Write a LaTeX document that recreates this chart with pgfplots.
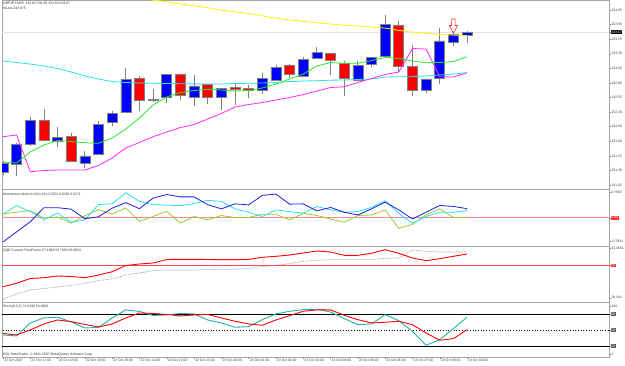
\documentclass[border=0pt]{standalone}
\usepackage{fontspec}
\setmainfont{Liberation Sans}
\usepackage{pgfplots}
\usepackage{pgfplotstable}
\pgfplotsset{compat=1.18}

\definecolor{cblue}{RGB}{0,0,255}
\definecolor{cred}{RGB}{255,0,0}
\definecolor{mgreen}{RGB}{40,235,40}
\definecolor{mcyan}{RGB}{40,225,235}
\definecolor{mmag}{RGB}{255,40,255}
\definecolor{myel}{RGB}{250,250,0}
\definecolor{momblue}{RGB}{30,30,225}
\definecolor{momcyan}{RGB}{40,225,235}
\definecolor{momolive}{RGB}{154,205,50}
\definecolor{stcyan}{RGB}{32,178,170}
\definecolor{wickgray}{RGB}{128,128,128}
\definecolor{framegray}{RGB}{165,165,165}

\newcommand{\tf}{\fontsize{3.4}{4}\selectfont}

\pgfdeclareplotmark{dnarrow}{%
  \pgfpathmoveto{\pgfqpoint{-1.8pt}{7pt}}%
  \pgfpathlineto{\pgfqpoint{1.8pt}{7pt}}%
  \pgfpathlineto{\pgfqpoint{1.8pt}{0.5pt}}%
  \pgfpathlineto{\pgfqpoint{4.2pt}{0.5pt}}%
  \pgfpathlineto{\pgfqpoint{0pt}{-7pt}}%
  \pgfpathlineto{\pgfqpoint{-4.2pt}{0.5pt}}%
  \pgfpathlineto{\pgfqpoint{-1.8pt}{0.5pt}}%
  \pgfpathclose
  \pgfusepathqfillstroke}

\pgfplotsset{
  panel/.style={
    scale only axis, width=607pt, anchor=south west,
    xmin=-0.07, xmax=44.4,
    axis line style={framegray, line width=0.9pt},
    xtick=\empty,
    ytick pos=right,
    yticklabel pos=right,
    tick align=outside,
    major tick length=1.5pt,
    tick style={wickgray, line width=0.4pt},
    yticklabel style={font=\tf, text=black!75, inner sep=0.8pt},
    /pgf/number format/assume math mode=true,
  },
  over/.style={
    scale only axis, width=607pt, anchor=south west,
    xmin=-0.07, xmax=44.4, axis lines=none,
  },
}

\pgfplotstableread{
i o h l c
0 231.26 231.47 231.23 231.43
1 231.40 231.77 231.20 231.74
2 231.75 232.22 231.72 232.16
3 232.16 232.35 231.82 231.82
4 231.80 232.04 231.71 231.87
5 231.89 231.95 231.45 231.45
6 231.43 231.63 231.34 231.55
7 231.58 232.15 231.58 232.09
8 232.12 232.32 232.06 232.28
9 232.29 233.05 232.29 232.86
10 232.88 232.92 232.32 232.51
11 232.52 232.69 232.48 232.50
12 232.55 232.96 232.46 232.95
13 232.94 232.95 232.50 232.59
14 232.56 232.94 232.41 232.75
15 232.78 232.79 232.44 232.55
16 232.56 232.70 232.34 232.70
17 232.72 232.78 232.42 232.69
18 232.71 232.76 232.54 232.68
19 232.68 232.97 232.61 232.88
20 232.85 233.11 232.85 233.07
21 233.10 233.12 232.88 232.94
22 232.92 233.24 232.92 233.21
23 233.22 233.41 233.22 233.33
24 233.31 233.32 232.94 233.19
25 233.14 233.18 232.58 232.88
26 232.85 233.18 232.85 233.10
27 233.12 233.24 233.07 233.24
28 233.25 233.96 233.25 233.81
29 233.78 233.86 232.99 233.09
30 233.08 233.45 232.58 232.67
31 232.68 232.87 232.62 232.87
32 232.88 233.75 232.79 233.52
33 233.50 233.72 233.43 233.63
34 233.62 233.69 233.49 233.67
}\candles

\pgfplotstableread{
i cy gr mg
0 233.176 231.444 231.878
1 233.150 231.427 231.907
2 233.124 231.616 231.278
3 233.090 231.736 231.299
4 233.047 231.813 231.307
5 232.987 231.796 231.307
6 232.919 231.774 231.307
7 232.867 231.765 231.384
8 232.824 231.856 231.513
9 232.807 232.010 231.684
10 232.799 232.199 231.779
11 232.794 232.421 231.878
12 232.790 232.559 231.959
13 232.787 232.636 232.036
14 232.785 232.670 232.087
15 232.781 232.691 232.181
16 232.781 232.679 232.276
17 232.790 232.661 232.387
18 232.794 232.670 232.430
19 232.799 232.713 232.464
20 232.807 232.781 232.507
21 232.824 232.867 232.550
22 232.833 232.953 232.601
23 232.838 233.090 232.661
24 232.847 233.150 232.721
25 232.850 233.136 232.735
26 232.859 233.136 232.807
27 232.867 233.184 232.876
28 232.901 233.236 232.944
29 232.907 233.222 232.987
30 232.907 233.176 233.390
31 232.919 233.147 233.381
32 232.936 233.150 232.907
33 232.953 233.167 232.901
34 232.975 233.249 232.975
}\mas

\pgfplotstableread{
i mb mc mo qr qg sr sc
0 -0.680 0.105 0.105 37.38 29.94 43.5 40.7
1 -0.397 0.340 0.156 39.38 33.07 40.7 38.8
2 -0.113 0.178 0.198 42.21 35.43 50.1 63.2
3 0.283 -0.057 -0.008 42.69 36.31 61.3 72.6
4 0.283 0.133 0.020 43.69 37.20 68.8 73.9
5 0.241 -0.133 -0.150 43.40 38.08 65.6 65.1
6 -0.028 -0.057 0.057 42.69 39.38 60.4 53.8
7 0.028 0.368 0.227 44.28 41.03 55.7 54.8
8 0.269 0.397 0.105 46.23 41.92 61.3 72.6
9 0.425 0.700 0.275 49.89 44.28 72.6 87.6
10 0.255 0.462 -0.105 50.78 45.46 81.9 84.8
11 0.552 0.368 0.037 51.37 46.82 81.0 77.3
12 0.652 0.354 0.178 53.43 47.24 79.1 78.2
13 0.586 0.340 -0.150 53.55 47.24 76.3 81.0
14 0.586 0.397 0.037 53.55 47.24 78.2 80.1
15 0.368 0.490 -0.057 53.43 47.44 79.1 68.8
16 0.249 0.458 0.062 53.32 47.65 72.6 63.2
17 0.390 0.249 0.006 53.32 47.65 66.4 55.1
18 0.362 0.156 0.006 53.50 48.24 61.3 56.3
19 0.628 0.034 0.099 54.73 49.18 58.9 69.4
20 0.665 0.221 0.099 55.32 50.00 68.8 80.1
21 0.382 0.175 -0.062 56.09 50.96 76.9 85.1
22 0.390 0.127 0.127 57.27 52.37 85.1 88.1
23 0.192 0.317 0.062 58.45 52.96 87.6 88.9
24 0.289 0.221 -0.034 57.86 53.32 87.6 83.8
25 0.156 0.156 -0.127 55.91 53.32 77.6 71.3
26 0.079 0.175 0.062 55.91 53.32 69.4 60.0
27 0.249 0.289 0.079 57.10 53.32 63.2 61.3
28 0.439 0.475 0.221 59.22 54.14 64.5 78.8
29 0.221 0.127 -0.297 57.10 54.32 66.4 67.5
30 -0.034 -0.156 -0.184 54.32 59.04 60.0 47.6
31 0.156 0.034 0.079 52.73 58.28 44.4 21.4
32 0.345 0.156 0.249 53.91 57.86 30.8 31.9
33 0.317 0.156 0.006 55.32 57.86 33.8 52.5
34 0.2551 0.2035 0.0171 56.68 57.86 50.6 74.02
}\ind

\begin{document}
\begin{tikzpicture}
\useasboundingbox (0pt,0pt) rectangle (625pt,365pt);
\fill[white] (0pt,0pt) rectangle (625pt,365pt);

% ---------- main price panel: frame, wicks, price line
\begin{axis}[panel, at={(2pt,175.5pt)}, height=189pt,
  ymin=230.973, ymax=234.213,
  ytick={231.05,231.30,231.55,231.80,232.05,232.30,232.55,232.80,233.05,233.30,233.55,233.80,234.05},
  yticklabel style={/pgf/number format/fixed, /pgf/number format/fixed zerofill, /pgf/number format/precision=2},
  extra y ticks={233.67}, extra y tick labels={233.67},
  extra y tick style={yticklabel style={fill=black, text=white, inner sep=0.6pt}},
]
\addplot[gray!22, line width=1.2pt, forget plot] coordinates {(-1,233.67) (45,233.67)};
\addplot[only marks, mark=*, mark size=0pt, mark options={draw=none, fill=none}, forget plot,
  error bars/.cd, y dir=plus, y explicit, error mark=none,
  error bar style={draw=wickgray, line width=0.8pt}]
  table[x=i, y=l, y error plus expr={\thisrow{h}-\thisrow{l}}] {\candles};
\end{axis}

% ---------- candle bodies
\begin{axis}[over, at={(2pt,175.5pt)}, height=189pt,
  ymin=230.973, ymax=234.213, ybar stacked, bar width=10pt]
\addplot[draw=none, fill=none] table[x=i, y expr={min(\thisrow{o},\thisrow{c})}] {\candles};
\addplot[fill=cblue, draw=wickgray, line width=0.6pt] table[x=i, y expr={max(\thisrow{c}-\thisrow{o},0)}] {\candles};
\addplot[fill=cred, draw=wickgray, line width=0.6pt] table[x=i, y expr={max(\thisrow{o}-\thisrow{c},0)}] {\candles};
\end{axis}

% ---------- moving averages and signal arrow
\begin{axis}[over, at={(2pt,175.5pt)}, height=189pt,
  ymin=230.973, ymax=234.213, clip=true]
\addplot[myel, line width=0.8pt] coordinates {(10,234.25)(11,234.22)(12,234.19)(13,234.155)(14,234.12)(15,234.09)(16,234.05)(17,234.02)(18,233.99)(19,233.95)(20,233.91)(21,233.88)(22,233.855)(23,233.83)(24,233.81)(25,233.79)(26,233.775)(27,233.76)(28,233.74)(29,233.70)(30,233.67)(31,233.65)(32,233.63)(33,233.62)(34,233.61)};
\addplot[mcyan, line width=0.8pt] table[x=i, y=cy] {\mas};
\addplot[mmag, line width=0.8pt] table[x=i, y=mg] {\mas};
\addplot[mgreen, line width=0.8pt] table[x=i, y=gr] {\mas};
\addplot[only marks, mark=dnarrow, mark options={draw=red!85, fill=white, line width=0.6pt}] coordinates {(33,233.776)};
\end{axis}

% ---------- momentum panel
\begin{axis}[panel, at={(2pt,119pt)}, height=56.5pt,
  ymin=-0.7933, ymax=0.7933,
  ytick={-0.671,0.708}, yticklabels={-0.7933,0.7933},
  extra y ticks={0}, extra y tick labels={0.00},
  extra y tick style={yticklabel style={fill=red!80, text=white, inner sep=0.6pt}},
]
\addplot[red!45, line width=0.6pt] coordinates {(-1,0) (45,0)};
\addplot[momolive, line width=0.8pt] table[x=i, y=mo] {\ind};
\addplot[momcyan, line width=0.8pt] table[x=i, y=mc] {\ind};
\addplot[momblue, line width=0.8pt] table[x=i, y=mb] {\ind};
\end{axis}

% ---------- QQE panel
\begin{axis}[panel, at={(2pt,63pt)}, height=56pt,
  ymin=28.341, ymax=61.4051,
  ytick={30.88,59.93}, yticklabels={28.341,61.4051},
  extra y ticks={50}, extra y tick labels={50},
  extra y tick style={yticklabel style={fill=red!80, text=white, inner sep=0.6pt}},
]
\addplot[red!70, line width=0.6pt] coordinates {(-1,50) (45,50)};
\addplot[black!55, densely dotted, line width=0.6pt] table[x=i, y=qg] {\ind};
\addplot[red, line width=0.9pt] table[x=i, y=qr] {\ind};
\end{axis}

% ---------- Stochastic panel
\begin{axis}[panel, at={(2pt,8pt)}, height=55pt,
  ymin=-0.56, ymax=102.44,
  ytick={5,95}, yticklabels={0,100},
  extra y ticks={20,50,80}, extra y tick labels={20,50,80},
  extra y tick style={yticklabel style={fill=black!65, text=white, inner sep=0.6pt}},
  xtick={0,2,...,34},
  xticklabels={22 Oct 2007,22 Oct 17:00,22 Oct 18:00,22 Oct 19:00,22 Oct 20:00,22 Oct 21:00,22 Oct 22:00,22 Oct 23:00,23 Oct 00:00,23 Oct 01:00,23 Oct 02:00,23 Oct 03:00,23 Oct 04:00,23 Oct 05:00,23 Oct 06:00,23 Oct 07:00,23 Oct 08:00,23 Oct 09:00},
  xtick pos=left,
  xticklabel style={font=\tf, text=black!75, anchor=north west, inner sep=0.4pt, xshift=0.6pt},
]
\addplot[black, line width=0.6pt] coordinates {(-1,80) (45,80)};
\addplot[black, dotted, line width=0.7pt] coordinates {(-1,50) (45,50)};
\addplot[black, line width=0.6pt] coordinates {(-1,20) (45,20)};
\addplot[stcyan, line width=0.9pt] table[x=i, y=sc] {\ind};
\addplot[red, line width=0.9pt] table[x=i, y=sr] {\ind};
\end{axis}

% ---------- panel captions
\begin{scope}[every node/.style={font=\tf, text=black!80, anchor=west, inner sep=0}]
\node at (3pt,361pt) {GBPJPY,M30\ \ 233.62 233.68 233.50 233.67};
\node at (3pt,356.5pt) {MLine 233.675};
\node at (3pt,170.5pt) {Momentum-Multi v1.0(14,16) 0.2551 0.2035 0.0171};
\node at (3pt,114.3pt) {QQE Current TimeFrame 27.1093 53.7694 58.3834};
\node at (3pt,58.3pt) {Stoch(8,3,3) 74.0196 53.3660};
\node at (3pt,10.5pt) {DDL MetaTrader, \textcopyright\ 2001-2007 MetaQuotes Software Corp.};
\end{scope}
\end{tikzpicture}
\end{document}
